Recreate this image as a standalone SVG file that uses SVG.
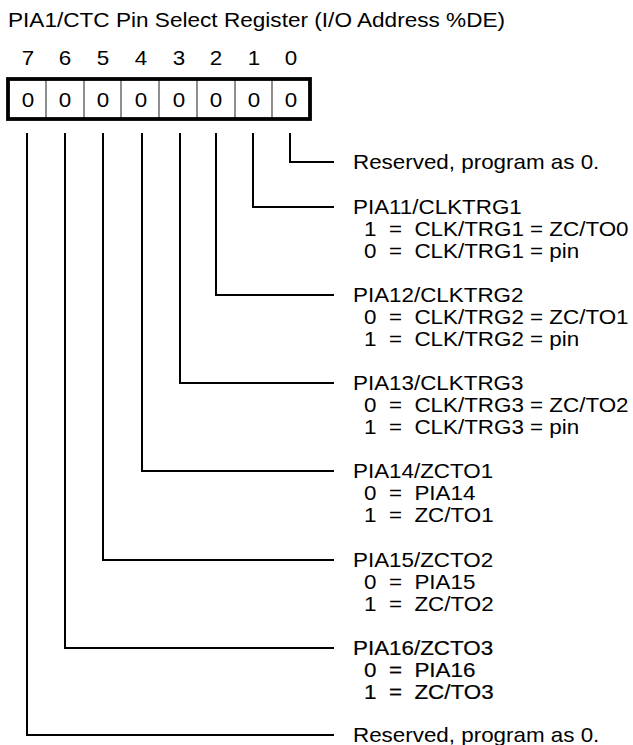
<svg xmlns="http://www.w3.org/2000/svg" width="633" height="745" viewBox="0 0 633 745" xml:space="preserve">
<style>
.t{font-family:"Liberation Sans",Arial,sans-serif;font-size:20px;fill:#000;white-space:pre}
.c{text-anchor:middle}
.b{stroke:#000;stroke-width:0.2}
.ln{fill:none;stroke:#000;stroke-width:2}
.div{stroke:#444;stroke-width:1.2}
</style>
<rect width="633" height="745" fill="#fff"/>
<g id="title"><text class="t" transform="translate(8,27) scale(1.13,1)">PIA1/CTC Pin Select Register (I/O Address %DE)</text></g>
<g id="register">
<g id="bitnums">
<text class="t c" transform="translate(28,65) scale(1.12,1)">7</text>
<text class="t c" transform="translate(65,65) scale(1.12,1)">6</text>
<text class="t c" transform="translate(103,65) scale(1.12,1)">5</text>
<text class="t c" transform="translate(141,65) scale(1.12,1)">4</text>
<text class="t c" transform="translate(179,65) scale(1.12,1)">3</text>
<text class="t c" transform="translate(216,65) scale(1.12,1)">2</text>
<text class="t c" transform="translate(254,65) scale(1.12,1)">1</text>
<text class="t c" transform="translate(291,65) scale(1.12,1)">0</text>
</g>
<g id="cells">
<line class="div" x1="46" y1="80" x2="46" y2="119"/>
<line class="div" x1="84" y1="80" x2="84" y2="119"/>
<line class="div" x1="121" y1="80" x2="121" y2="119"/>
<line class="div" x1="159" y1="80" x2="159" y2="119"/>
<line class="div" x1="197" y1="80" x2="197" y2="119"/>
<line class="div" x1="235" y1="80" x2="235" y2="119"/>
<line class="div" x1="272" y1="80" x2="272" y2="119"/>
<rect x="8" y="79" width="302" height="40" fill="none" stroke="#000" stroke-width="3.8"/>
<text class="t c" transform="translate(28,107) scale(1.12,1)">0</text>
<text class="t c" transform="translate(65,107) scale(1.12,1)">0</text>
<text class="t c" transform="translate(103,107) scale(1.12,1)">0</text>
<text class="t c" transform="translate(141,107) scale(1.12,1)">0</text>
<text class="t c" transform="translate(179,107) scale(1.12,1)">0</text>
<text class="t c" transform="translate(216,107) scale(1.12,1)">0</text>
<text class="t c" transform="translate(254,107) scale(1.12,1)">0</text>
<text class="t c" transform="translate(291,107) scale(1.12,1)">0</text>
</g>
</g>
<g id="connectors">
<path class="ln" d="M290 133V162H334"/>
<path class="ln" d="M253 133V207H334"/>
<path class="ln" d="M216 133V295H334"/>
<path class="ln" d="M180 133V383H334"/>
<path class="ln" d="M142 133V471H334"/>
<path class="ln" d="M103 133V560H334"/>
<path class="ln" d="M65 133V648H334"/>
<path class="ln" d="M27 133V735H334"/>
</g>
<g id="bit0"><text class="t" transform="translate(353,169) scale(1.12,1)">Reserved, program as 0.</text></g>
<g id="bit1">
<text class="t" transform="translate(353,214) scale(1.12,1)">PIA11/CLKTRG1</text>
<text class="t" transform="translate(364,236) scale(1.12,1)">1  =  CLK/TRG1 = ZC/TO0</text>
<text class="t" transform="translate(364,258) scale(1.12,1)">0  =  CLK/TRG1 = pin</text>
</g>
<g id="bit2">
<text class="t" transform="translate(353,302) scale(1.12,1)">PIA12/CLKTRG2</text>
<text class="t" transform="translate(364,324) scale(1.12,1)">0  =  CLK/TRG2 = ZC/TO1</text>
<text class="t" transform="translate(364,346) scale(1.12,1)">1  =  CLK/TRG2 = pin</text>
</g>
<g id="bit3">
<text class="t" transform="translate(353,390) scale(1.12,1)">PIA13/CLKTRG3</text>
<text class="t" transform="translate(364,412) scale(1.12,1)">0  =  CLK/TRG3 = ZC/TO2</text>
<text class="t" transform="translate(364,434) scale(1.12,1)">1  =  CLK/TRG3 = pin</text>
</g>
<g id="bit4">
<text class="t" transform="translate(353,478) scale(1.12,1)">PIA14/ZCTO1</text>
<text class="t" transform="translate(364,500) scale(1.12,1)">0  =  PIA14</text>
<text class="t" transform="translate(364,522) scale(1.12,1)">1  =  ZC/TO1</text>
</g>
<g id="bit5">
<text class="t" transform="translate(353,567) scale(1.12,1)">PIA15/ZCTO2</text>
<text class="t" transform="translate(364,589) scale(1.12,1)">0  =  PIA15</text>
<text class="t" transform="translate(364,611) scale(1.12,1)">1  =  ZC/TO2</text>
</g>
<g id="bit6">
<text class="t b" transform="translate(353,655) scale(1.12,1)">PIA16/ZCTO3</text>
<text class="t b" transform="translate(364,677) scale(1.12,1)">0  =  PIA16</text>
<text class="t b" transform="translate(364,699) scale(1.12,1)">1  =  ZC/TO3</text>
</g>
<g id="bit7"><text class="t" transform="translate(353,742) scale(1.12,1)">Reserved, program as 0.</text></g>
</svg>
